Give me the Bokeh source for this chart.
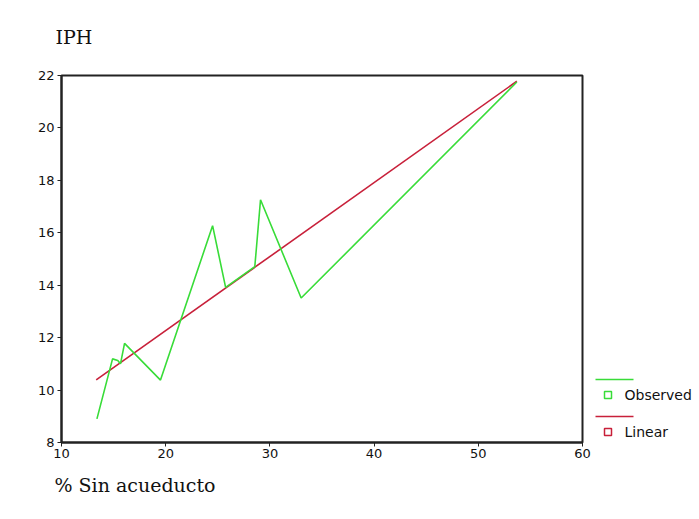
from bokeh.plotting import figure
from bokeh.models import Range1d, FixedTicker, Title
from bokeh.layouts import row
from bokeh.embed import file_html
from bokeh.resources import INLINE

# Data
obs_x = [13.4, 14.9, 15.4, 15.66, 16.05, 19.5, 24.5, 25.75, 28.55, 28.7, 29.1, 33.0, 53.7]
obs_y = [8.9, 11.19, 11.13, 11.0, 11.78, 10.38, 16.27, 13.92, 14.71, 15.39, 17.26, 13.51, 21.75]
lin_x = [13.33, 53.7]
lin_y = [10.39, 21.78]
x_ticks = [10, 20, 30, 40, 50, 60]
y_ticks = [8, 10, 12, 14, 16, 18, 20, 22]
legend_labels = ["Observed", "Linear"]

GREEN = "#38dc38"
RED = "#c8203a"

p = figure(width=593, height=519, output_backend="svg", toolbar_location=None,
           x_range=Range1d(10, 60), y_range=Range1d(8, 22),
           min_border_left=61, min_border_right=11, min_border_top=75, min_border_bottom=77)
p.xgrid.visible = False
p.ygrid.visible = False
p.outline_line_color = "#222222"
p.outline_line_width = 2
for ax, ticks in ((p.xaxis, x_ticks), (p.yaxis, y_ticks)):
    ax.ticker = FixedTicker(ticks=ticks)
    ax.minor_tick_line_color = None
    ax.axis_line_color = "#222222"
    ax.axis_line_width = 2
    ax.major_tick_line_color = "#222222"
    ax.major_tick_in = 0
    ax.major_tick_out = 4
    ax.major_label_text_font = "DejaVu Sans"
    ax.major_label_text_font_size = "13px"
    ax.major_label_text_color = "#111111"
p.xaxis.major_label_standoff = 2
p.yaxis.major_label_standoff = 3

p.line(lin_x, lin_y, line_color=RED, line_width=1.6)
p.line(obs_x, obs_y, line_color=GREEN, line_width=1.6)

p.title = Title(text="IPH", align="left", offset=-6, standoff=51, vertical_align="top",
                text_font="DejaVu Serif", text_font_size="19px", text_font_style="normal",
                text_color="#111111")
p.add_layout(Title(text="% Sin acueducto", align="left", offset=-7, standoff=22,
                   text_font="DejaVu Serif", text_font_size="19px", text_font_style="normal",
                   text_color="#111111"), "below")

# legend panel: y values are page pixel rows (frame is aligned with the main plot)
lg = figure(width=106, height=519, output_backend="svg", toolbar_location=None,
            x_range=Range1d(0, 106), y_range=Range1d(442, 75),
            min_border_left=0, min_border_right=0, min_border_top=75, min_border_bottom=77)
lg.axis.visible = False
lg.grid.visible = False
lg.outline_line_color = None
colors = [GREEN, RED]
for i, (lab, c) in enumerate(zip(legend_labels, colors)):
    yl = 379 + i * 37
    lg.line([2, 40], [yl, yl], line_color=c, line_width=1.6)
    lg.scatter([14.5], [yl + 15.5], marker="square", size=7, fill_color=None,
               line_color=c, line_width=1.5)
    lg.text([31], [yl + 15.5], text=[lab], text_font_size="14px", text_baseline="middle",
            text_color="#111111", text_font={"value": "DejaVu Sans"})

layout = row(p, lg, spacing=0)
open("out.html", "w").write(file_html(layout, INLINE))
